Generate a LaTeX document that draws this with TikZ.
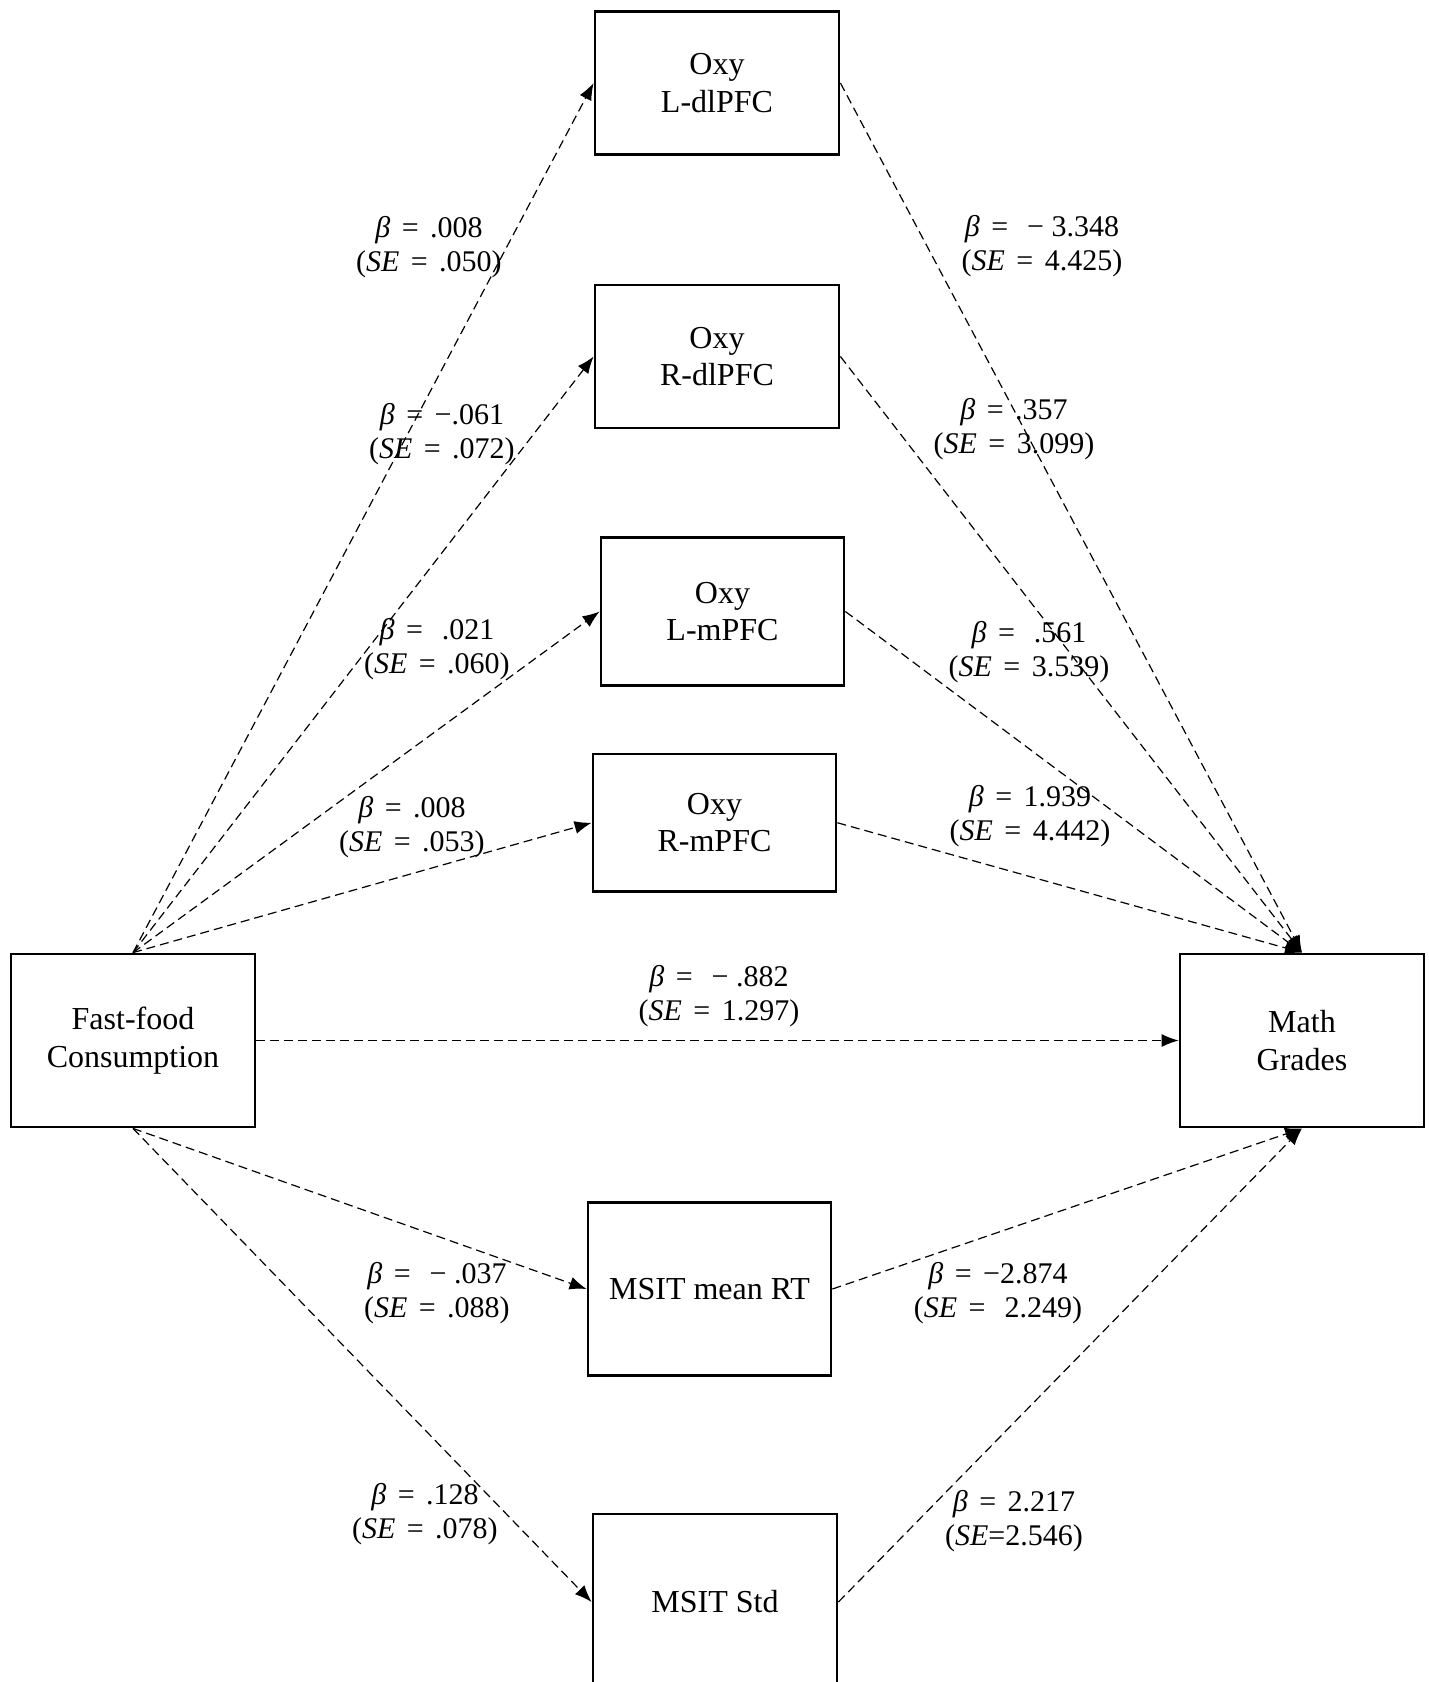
\documentclass[tikz,border=0pt]{standalone}
\usepackage{fontspec}
\setmainfont{Liberation Serif}
\usetikzlibrary{arrows.meta}
\newcommand{\eqs}{\hspace{0.38em}=\hspace{0.38em}}
\newcommand{\bt}{{\itshape β}}
\newcommand{\se}{{\itshape SE}}
\begin{document}
\begin{tikzpicture}[x=0.5pt,y=-0.5pt,
 box/.style={draw,line width=1.4pt,rectangle,inner sep=0pt,align=center,font=\fontsize{16}{18.75}\selectfont},
 conn/.style={line width=0.6pt,dash pattern=on 4.5pt off 2.5pt,-{Latex[length=8.5pt,width=6.5pt]}},
 lab/.style={align=center,font=\fontsize{15}{17}\selectfont,inner sep=0pt}]
\clip (0,0) rectangle (1429,1682);
\fill[white] (0,0) rectangle (1429,1682);
\useasboundingbox (0,0) rectangle (1429,1682);

\node[box,minimum width=122pt,minimum height=71.25pt] (ldl) at (717,83) {Oxy\\L-dlPFC};
\node[box,minimum width=122pt,minimum height=71.5pt] (rdl) at (717,356.5) {Oxy\\R-dlPFC};
\node[box,minimum width=121.5pt,minimum height=74pt] (lm) at (722.5,611.5) {Oxy\\L-mPFC};
\node[box,minimum width=121.5pt,minimum height=68.75pt] (rm) at (714.5,822.75) {Oxy\\R-mPFC};
\node[box,minimum width=122pt,minimum height=86.5pt] (ff) at (133,1040.5) {Fast-food\\Consumption};
\node[box,minimum width=122pt,minimum height=86.5pt] (mg) at (1302,1040.5) {Math\\Grades};
\node[box,minimum width=121.5pt,minimum height=86.25pt] (rt) at (709.5,1289) {MSIT mean RT};
\node[box,minimum width=122pt,minimum height=88pt] (std) at (715,1602) {MSIT Std};

\draw[conn] (ff.north) -- (ldl.west);
\draw[conn] (ff.north) -- (rdl.west);
\draw[conn] (ff.north) -- (lm.west);
\draw[conn] (ff.north) -- (rm.west);
\draw[conn] (ldl.east) -- (mg.north);
\draw[conn] (rdl.east) -- (mg.north);
\draw[conn] (lm.east) -- (mg.north);
\draw[conn] (rm.east) -- (mg.north);
\draw[conn] (ff.east) -- (mg.west);
\draw[conn] (ff.south) -- (rt.west);
\draw[conn] (ff.south) -- (std.west);
\draw[conn] (rt.east) -- (mg.south);
\draw[conn] (std.east) -- (mg.south);

\node[lab] (l1) at (429,247) {\bt\eqs.008\\(\se\eqs.050)};
\node[lab] (l2) at (442,434) {\bt\eqs−.061\\(\se\eqs.072)};
\node[lab] (l3) at (437,649) {\bt\eqs\ .021\\(\se\eqs.060)};
\node[lab] (l4) at (412,827) {\bt\eqs.008\\(\se\eqs.053)};
\node[lab] (r1) at (1042,246.5) {\bt\eqs\ − 3.348\\(\se\eqs4.425)};
\node[lab] (r2) at (1014,429.5) {\bt\eqs.357\\(\se\eqs3.099)};
\node[lab] (r3) at (1029,652) {\bt\eqs\ .561\\(\se\eqs3.539)};
\node[lab] (r4) at (1030,816.5) {\bt\eqs1.939\\(\se\eqs4.442)};
\node[lab] (d) at (719,996) {\bt\eqs\ − .882\\(\se\eqs1.297)};
\node[lab] (l5) at (437,1293) {\bt\eqs\ − .037\\(\se\eqs.088)};
\node[lab] (r5) at (998,1293) {\bt\eqs−2.874\\(\se\eqs\ 2.249)};
\node[lab] (l6) at (425,1514.5) {\bt\eqs.128\\(\se\eqs.078)};
\node[lab] (r6) at (1014,1521) {\bt\eqs2.217\\(\se=2.546)};
\end{tikzpicture}
\end{document}
